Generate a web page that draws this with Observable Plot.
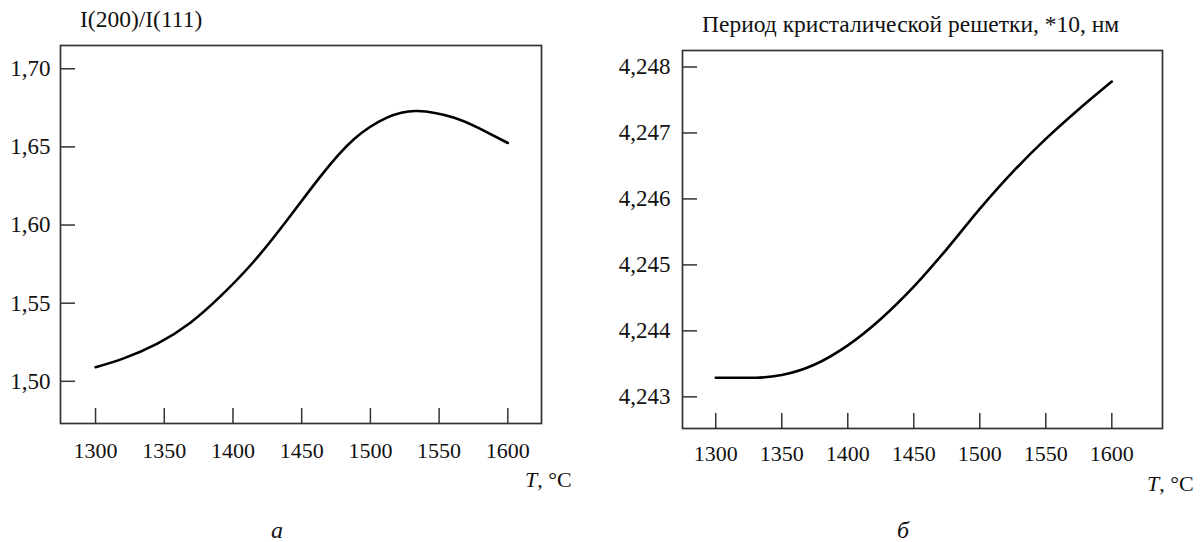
<!DOCTYPE html>
<html><head><meta charset="utf-8">
<script src="https://cdn.jsdelivr.net/npm/d3@7"></script>
<script src="https://cdn.jsdelivr.net/npm/@observablehq/plot@0.6"></script>
<style>
body{margin:0;background:#fff;}
#wrap{position:relative;width:1204px;height:542px;overflow:hidden;font-family:"Liberation Serif","Times New Roman",serif;color:#111;}
#wrap svg{position:absolute;top:0;}
#wrap svg text{font-family:"Liberation Serif","Times New Roman",serif;}
.lbl{position:absolute;white-space:nowrap;font-size:22px;line-height:1;}
.it{font-style:italic;}
</style></head><body><div id="wrap"></div>
<script>
// Panel а: I(200)/I(111) vs temperature
const tempA  = [1300, 1320, 1345, 1369, 1391, 1415, 1440, 1464, 1488, 1512, 1534, 1561, 1580, 1600];
const ratioA = [1.509, 1.5145, 1.5241, 1.5375, 1.5545, 1.5765, 1.6039, 1.6315, 1.6549, 1.6687, 1.6730, 1.6687, 1.6615, 1.6525];
// Panel б: lattice period vs temperature
const tempB = [1300, 1330, 1350, 1375, 1400, 1425, 1450, 1475, 1500, 1525, 1550, 1575, 1600];
const latB  = [4.24329, 4.24329, 4.24333, 4.24349, 4.24378, 4.24418, 4.24467, 4.24524, 4.24585, 4.24641, 4.24691, 4.24736, 4.24778];

const xTicks  = [1300, 1350, 1400, 1450, 1500, 1550, 1600];
const yTicksA = [1.50, 1.55, 1.60, 1.65, 1.70];
const yTicksB = [4.243, 4.244, 4.245, 4.246, 4.247, 4.248];

const titleA = "I(200)/I(111)";
const titleB = "Период кристалической решетки, *10, нм";
const xLabelItalic = "T";
const xLabelRest = ", °C";
const panelA = "а";
const panelB = "б";

const dataA = tempA.map((t, i) => ({t, v: ratioA[i]}));
const dataB = tempB.map((t, i) => ({t, v: latB[i]}));

const comma = (d, n) => d.toFixed(n).replace(".", ",");
const frameColor = "#333";

function panel({width, height, mL, mR, mT, mB, xDomain, yDomain, yTicks, yDigits, data, yPad, xPad, curve}) {
  const innerW = width - mL - mR;
  const innerH = height - mT - mB;
  return Plot.plot({
    width, height,
    marginLeft: mL, marginRight: mR, marginTop: mT, marginBottom: mB,
    style: {fontFamily: "Liberation Serif, serif", fontSize: "22px", color: "#111", background: "transparent", overflow: "visible"},
    x: {domain: xDomain, label: null},
    y: {domain: yDomain, label: null},
    marks: [
      Plot.frame({stroke: frameColor, strokeWidth: 1.7}),
      Plot.tickY(yTicks, {y: d => d, insetRight: innerW - 15, stroke: frameColor, strokeWidth: 1.5}),
      Plot.tickX(xTicks, {x: d => d, insetTop: innerH - 15, stroke: frameColor, strokeWidth: 1.5}),
      Plot.axisY(yTicks, {tickSize: 0, tickPadding: yPad, tickFormat: d => comma(d, yDigits), fill: "#111", fontSize: 23}),
      Plot.axisX(xTicks, {tickSize: 0, tickPadding: xPad, tickFormat: d => String(d), fill: "#111", fontSize: 22}),
      Plot.line(data, {x: "t", y: "v", curve, stroke: "#000", strokeWidth: 2.6})
    ]
  });
}

const wrap = document.getElementById("wrap");

const svgA = panel({width: 600, height: 542, mL: 60, mR: 59, mT: 45, mB: 119,
  xDomain: [1274.5, 1624.5], yDomain: [1.473, 1.7149], yTicks: yTicksA, yDigits: 2, data: dataA, yPad: 10, xPad: 19, curve: "natural"});
svgA.style.left = "0px";
wrap.appendChild(svgA);

const svgB = panel({width: 604, height: 542, mL: 82, mR: 42, mT: 50, mB: 114,
  xDomain: [1274.8, 1638.4], yDomain: [4.24252, 4.24825], yTicks: yTicksB, yDigits: 3, data: dataB, yPad: 12, xPad: 17, curve: "monotone-x"});
svgB.style.left = "600px";
wrap.appendChild(svgB);

function label(html, left, top, cls, size) {
  const d = document.createElement("div");
  d.className = "lbl" + (cls ? " " + cls : "");
  d.style.left = left + "px";
  d.style.top = top + "px";
  if (size) d.style.fontSize = size + "px";
  d.innerHTML = html;
  wrap.appendChild(d);
}
label(titleA, 80, 8, "", 23.5);
label(titleB, 702, 12.6, "", 23.5);
label(`<span class="it">${xLabelItalic}</span>${xLabelRest}`, 525, 469);
label(`<span class="it">${xLabelItalic}</span>${xLabelRest}`, 1147, 472.6);
label(panelA, 271, 518, "it", 24);
label(panelB, 897, 518, "it", 24);
</script>
</body></html>
